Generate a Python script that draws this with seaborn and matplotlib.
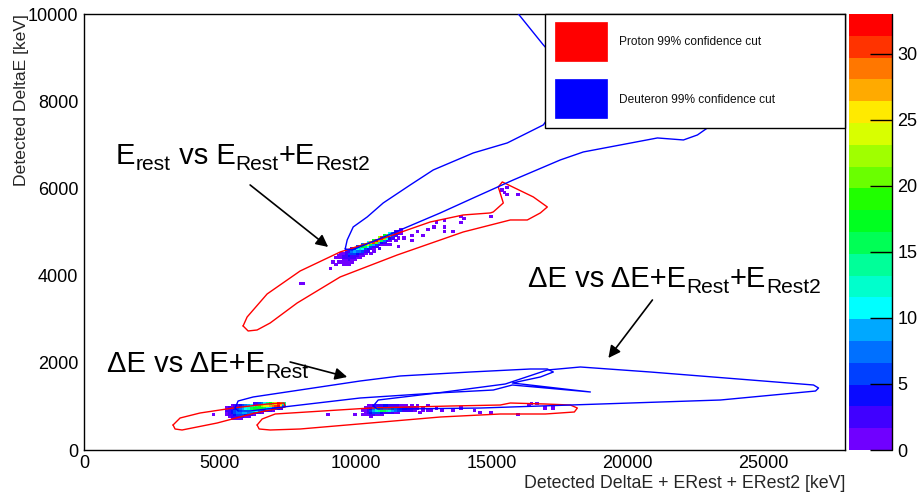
import numpy as np
import pandas as pd
import matplotlib
matplotlib.use("Agg")
import matplotlib.pyplot as plt
import seaborn as sns
from matplotlib.colors import ListedColormap
from matplotlib.patches import Rectangle
from matplotlib.ticker import MultipleLocator
from matplotlib.transforms import offset_copy

# ---------------------------------------------------------------------------
# 2D histogram contents, counts per (100 keV x 50 keV) bin.
# Each entry: (x bin start, top y bin start, counts going down in y)
# ---------------------------------------------------------------------------
erest_band_cols = [
    (9100, 4300, [1]),
    (9200, 4400, [1, 0, 0, 1]),
    (9300, 4450, [1, 1, 0, 1]),
    (9400, 4500, [1, 1, 1, 0, 1]),
    (9500, 4500, [1, 2, 2, 1, 1, 1]),
    (9600, 4550, [2, 3, 2, 2, 1, 1, 1]),
    (9700, 4550, [3, 5, 4, 2, 2, 1, 1]),
    (9800, 4600, [3, 7, 6, 3, 2, 1, 1]),
    (9900, 4600, [6, 9, 6, 3, 2, 1]),
    (10000, 4650, [5, 11, 8, 4, 2, 1]),
    (10100, 4650, [12, 14, 7, 3, 1, 1]),
    (10200, 4700, [7, 17, 11, 5, 2, 1]),
    (10300, 4700, [20, 15, 6, 3, 1]),
    (10400, 4750, [11, 24, 10, 4, 2]),
    (10500, 4750, [27, 16, 6, 2, 0, 1]),
    (10600, 4800, [18, 30, 9, 3, 1]),
    (10700, 4800, [32, 20, 5, 2]),
    (10800, 4850, [22, 28, 9, 3, 0, 1]),
    (10900, 4850, [30, 15, 4, 1]),
    (11000, 4900, [18, 22, 7, 2]),
    (11100, 4900, [20, 10, 3, 0, 1]),
    (11200, 4950, [10, 12, 4, 1]),
    (11300, 4950, [8, 5, 2]),
    (11400, 5000, [3, 4, 2, 0, 1]),
    (11500, 5000, [3, 2, 0, 1]),
    (11600, 5050, [1, 1, 1]),
]

de_rest_cols = [
    (5200, 950, [1, 2, 1, 1]),
    (5300, 950, [2, 2, 3, 2, 1]),
    (5400, 1000, [1, 3, 4, 4, 3, 2, 1]),
    (5500, 1000, [2, 4, 5, 6, 4, 3, 1]),
    (5600, 1000, [3, 5, 7, 7, 5, 3, 1]),
    (5700, 1000, [4, 7, 9, 8, 5, 2, 1]),
    (5800, 1000, [6, 9, 11, 9, 5, 2]),
    (5900, 1000, [7, 11, 12, 9, 4, 1]),
    (6000, 1000, [9, 13, 13, 8, 3, 1]),
    (6100, 1000, [11, 15, 13, 7, 2]),
    (6200, 1050, [2, 13, 17, 12, 5, 1]),
    (6300, 1050, [3, 16, 18, 10, 3]),
    (6400, 1050, [5, 19, 18, 8, 2]),
    (6500, 1050, [8, 22, 17, 6, 1]),
    (6600, 1050, [11, 24, 15, 4]),
    (6700, 1050, [14, 26, 13, 3]),
    (6800, 1050, [18, 27, 10, 2]),
    (6900, 1050, [22, 29, 8, 1]),
    (7000, 1050, [26, 31, 6]),
    (7100, 1050, [30, 32, 4]),
    (7200, 1050, [28, 25, 2]),
    (7300, 1050, [14, 8]),
]

de_total_cols = [
    (10200, 900, [1, 0, 1]),
    (10300, 950, [1, 1, 1, 1]),
    (10400, 1000, [1, 2, 3, 2, 1]),
    (10500, 1000, [1, 4, 6, 4, 2, 1]),
    (10600, 1000, [2, 8, 9, 5, 2]),
    (10700, 1000, [2, 13, 12, 5, 1]),
    (10800, 1000, [3, 17, 14, 5, 1]),
    (10900, 1000, [3, 21, 15, 4, 1]),
    (11000, 1000, [4, 24, 15, 3]),
    (11100, 1000, [4, 25, 14, 3]),
    (11200, 1000, [3, 22, 12, 2]),
    (11300, 1000, [3, 17, 9, 2]),
    (11400, 1000, [2, 12, 7, 1]),
    (11500, 1000, [2, 8, 5, 1]),
    (11600, 1000, [1, 6, 4]),
    (11700, 1000, [1, 4, 3]),
    (11800, 1000, [1, 3, 2]),
    (11900, 1000, [0, 2, 2]),
    (12000, 1000, [1, 2, 1]),
    (12100, 1000, [0, 1, 1]),
    (12200, 1000, [1, 1]),
    (12400, 1000, [0, 1, 1]),
    (12600, 1000, [1, 0, 1]),
    (12900, 1000, [0, 1]),
]

# isolated single-count entries
sparse_x = [9058, 7953, 8064, 11009, 11746, 12077, 12629, 12997, 13218, 13550,
            13844, 13955, 14949, 15317, 15575, 15980, 13844, 13218, 12482, 11525,
            12003, 12261, 12813, 13218, 15428, 15501, 11267, 10825, 10604,
            12003, 12372, 12740, 13108, 13587, 13844, 14323, 14581, 14949, 15943,
            16311, 16421, 16679, 16900, 17232, 8947, 9905, 4713, 11451, 11635, 11819]
sparse_y = [4198, 3831, 3831, 4703, 4886, 4932, 5093, 5207, 5276, 5047,
            5207, 5345, 5391, 5964, 5850, 5850, 5391, 5001, 4932, 4657,
            4817, 5001, 5116, 5116, 5918, 6033, 4749, 4611, 4588,
            918, 895, 918, 941, 918, 963, 918, 872, 872, 849,
            1032, 1078, 1055, 986, 963, 849, 849, 849, 963, 918, 986]

# ---------------------------------------------------------------------------
# Graphical cuts (99 % confidence contours)
# ---------------------------------------------------------------------------
proton_erest_x = [5854, 6002, 6738, 7953, 9426, 11156, 12740, 13955, 14949, 15059,
                  15427, 15243, 15391, 16532, 17047, 16790, 16311, 15685, 13955,
                  11525, 9426, 7843, 6849, 6370, 6039]
proton_erest_y = [2845, 3051, 3579, 4106, 4542, 4886, 5230, 5391, 5437, 5460,
                  5666, 6033, 6148, 5804, 5574, 5437, 5276, 5276, 5001,
                  4473, 3969, 3372, 2913, 2753, 2730]

deuteron_erest_x = [9610, 9684, 9905, 10420, 11009, 12003, 12850, 14323, 15575, 16900,
                    18079, 16900, 15980, 15133, 31886, 31886, 28020, 24890, 22939,
                    22571, 22055, 21098, 18373, 17526, 15796, 14323, 13108, 11635,
                    10420, 9868]
deuteron_erest_y = [4611, 4818, 5116, 5345, 5666, 6079, 6423, 6813, 7043, 7456,
                    8488, 9291, 10002, 10667, 10667, 9405, 8717, 7914, 7387,
                    7226, 7111, 7157, 6836, 6653, 6194, 5781, 5437, 5047,
                    4726, 4588]

proton_de_rest_x = [3277, 3535, 4271, 5486, 6738, 7364, 7401, 6296, 4897, 3608, 3351]
proton_de_rest_y = [574, 734, 849, 963, 1055, 1078, 986, 849, 619, 459, 482]

deuteron_de_rest_x = [5560, 5670, 6223, 7695, 10162, 11635, 14212, 16421, 17047, 17268,
                      16790, 15759, 18631, 15759, 15059, 12997, 10162, 7327, 6112, 5670]
deuteron_de_rest_y = [963, 1124, 1216, 1353, 1583, 1698, 1789, 1858, 1858, 1789,
                      1675, 1537, 1331, 1491, 1376, 1308, 1193, 986, 895, 895]

proton_de_total_x = [6370, 6554, 7033, 10531, 13476, 15317, 15685, 16974, 17895, 18152,
                     18042, 16974, 15317, 13108, 10531, 7953, 6849, 6444]
proton_de_total_y = [574, 711, 826, 963, 1009, 1032, 1078, 1055, 1032, 963,
                     872, 826, 826, 757, 619, 482, 459, 482]

deuteron_de_total_x = [10641, 10825, 12997, 15501, 17047, 18263, 20840, 26842, 27026,
                       26916, 23418, 18999, 14581, 11635, 10788]
deuteron_de_total_y = [1009, 1147, 1308, 1514, 1835, 1904, 1789, 1491, 1422,
                       1353, 1147, 1055, 963, 941, 941]

cut_labels = ["Proton 99% confidence cut", "Deuteron 99% confidence cut"]
cut_colors = ["#ff0000", "#0000ff"]

# colour palette, 20 contour levels, lowest to highest
palette_levels = ["#7000ff", "#4000ff", "#0a0aff", "#0040ff", "#0070ff", "#00a8ff",
                  "#00ffff", "#00ffcc", "#00ff99", "#00ff55", "#00ff20", "#20ff00",
                  "#6aff00", "#a0ff00", "#d8ff00", "#ffea00", "#ffaa00", "#ff7700",
                  "#ff3300", "#ff0000"]
z_max = 33
cbar_ticks = [0, 5, 10, 15, 20, 25, 30]

# annotation texts as (piece, is_subscript)
label_erest = [("E", 0), ("rest", 1), (" vs E", 0), ("Rest", 1), ("+E", 0), ("Rest2", 1)]
label_de_rest = [("\u0394E vs \u0394E+E", 0), ("Rest", 1)]
label_de_total = [("\u0394E vs \u0394E+E", 0), ("Rest", 1), ("+E", 0), ("Rest2", 1)]

# ---------------------------------------------------------------------------
sns.set_theme(style="white")
plt.rcParams["font.family"] = ["Liberation Sans", "DejaVu Sans"]
plt.rcParams["axes.edgecolor"] = "black"

fig = plt.figure(figsize=(9.17, 4.93), dpi=100)
ax = fig.add_axes([0.0916, 0.0872, 0.8299, 0.8844])
cax = fig.add_axes([0.9259, 0.0872, 0.0469, 0.8844])


def expand(cols):
    xs, ys, ws = [], [], []
    for x0, ytop, counts in cols:
        for k, c in enumerate(counts):
            if c:
                xs.append(x0 + 50)
                ys.append(ytop - 50 * k + 25)
                ws.append(c)
    return xs, ys, ws


hx, hy, hw = [], [], []
for cols in (erest_band_cols, de_rest_cols, de_total_cols):
    a, b, c = expand(cols)
    hx += a
    hy += b
    hw += c
hx += sparse_x
hy += sparse_y
hw += [1] * len(sparse_x)
hist_df = pd.DataFrame({"x": hx, "y": hy, "w": hw})

cmap = ListedColormap(palette_levels)
sns.histplot(data=hist_df, x="x", y="y", weights="w", binwidth=(100, 50),
             binrange=((0, 28000), (0, 10000)), cmap=cmap, vmin=0, vmax=z_max,
             cbar=True, cbar_ax=cax, cbar_kws={"ticks": cbar_ticks}, ax=ax,
             edgecolors="face", linewidth=0.4)
mesh = ax.collections[-1]
mesh.set_clim(0, z_max)

# cut contours
cuts = [
    (proton_erest_x, proton_erest_y, cut_colors[0]),
    (deuteron_erest_x, deuteron_erest_y, cut_colors[1]),
    (proton_de_rest_x, proton_de_rest_y, cut_colors[0]),
    (deuteron_de_rest_x, deuteron_de_rest_y, cut_colors[1]),
    (proton_de_total_x, proton_de_total_y, cut_colors[0]),
    (deuteron_de_total_x, deuteron_de_total_y, cut_colors[1]),
]
for xs, ys, col in cuts:
    sns.lineplot(x=list(xs) + [xs[0]], y=list(ys) + [ys[0]], sort=False,
                 estimator=None, color=col, lw=1.0, ax=ax, zorder=3)

ax.set_xlim(0, 28000)
ax.set_ylim(0, 10000)
ax.set_axisbelow(False)

# axes frame and ticks
for side in ["left", "bottom", "top", "right"]:
    ax.spines[side].set_visible(True)
    ax.spines[side].set_color("black")
    ax.spines[side].set_linewidth(1.0)
ax.xaxis.set_major_locator(MultipleLocator(5000))
ax.xaxis.set_minor_locator(MultipleLocator(1000))
ax.yaxis.set_major_locator(MultipleLocator(2000))
ax.yaxis.set_minor_locator(MultipleLocator(500))
ax.tick_params(axis="both", which="both", direction="in", colors="black",
               labelsize=13, top=False, right=False, width=0.9)
ax.tick_params(axis="y", which="major", length=16.5, pad=4)
ax.tick_params(axis="y", which="minor", length=8.5)
ax.tick_params(axis="x", which="major", length=8.5, pad=3.5)
ax.tick_params(axis="x", which="minor", length=4.5)

ax.set_xlabel("Detected DeltaE + ERest + ERest2 [keV]", fontsize=12.8, loc="right")
ax.set_ylabel("Detected DeltaE [keV]", fontsize=12.6, loc="top")
ax.xaxis.set_label_coords(1.0, -0.058)
ax.yaxis.set_label_coords(-0.072, 1.0)

# colour scale
cbar = mesh.colorbar
cbar.outline.set_visible(False)
cax.set_axisbelow(False)
cax.tick_params(axis="y", which="both", direction="in", length=16, width=1.0,
                labelsize=13, pad=4, colors="black", right=True, left=False)
cax.minorticks_off()
cax.plot([1, 1], [0, 1], transform=cax.transAxes, color="black", lw=1.0,
         clip_on=False, zorder=5)

# legend box
ax.add_patch(Rectangle((0.6058, 0.7385), 0.3942, 0.2615, transform=ax.transAxes,
                       facecolor="white", edgecolor="black", lw=1.0, zorder=10,
                       clip_on=False))
swatch_y = [0.8922, 0.7615]
text_y = [0.9358, 0.8028]
for lab, col, sy, ty in zip(cut_labels, cut_colors, swatch_y, text_y):
    ax.add_patch(Rectangle((0.6189, sy), 0.0684, 0.0895, transform=ax.transAxes,
                           facecolor=col, edgecolor=col, lw=0.5, zorder=11))
    ax.text(0.703, ty, lab, transform=ax.transAxes, fontsize=8.6, va="center",
            ha="left", zorder=12, color="#111111")


def draw_latex(ax, x, y, pieces, size, sub_scale=0.72, sub_drop=0.2):
    fig = ax.figure
    renderer = fig.canvas.get_renderer()
    dx = 0.0
    for txt, is_sub in pieces:
        fs = size * sub_scale if is_sub else size
        dy = -size * sub_drop if is_sub else 0.0
        tr = offset_copy(ax.transData, fig=fig, x=dx, y=dy, units="points")
        t = ax.text(x, y, txt, fontsize=fs, transform=tr, ha="left",
                    va="baseline", color="black", zorder=6)
        dx += t.get_window_extent(renderer).width * 72.0 / fig.dpi


draw_latex(ax, 1178, 6561, label_erest, 21)
draw_latex(ax, 847, 1789, label_de_rest, 21)
draw_latex(ax, 16348, 3739, label_de_total, 21)

arrow_kw = dict(arrowstyle="-|>", color="black", lw=1.2, mutation_scale=18,
                shrinkA=0, shrinkB=0)
ax.annotate("", xy=(8984, 4657), xytext=(6112, 6079), arrowprops=arrow_kw, zorder=6)
ax.annotate("", xy=(9684, 1675), xytext=(7585, 2019), arrowprops=arrow_kw, zorder=6)
ax.annotate("", xy=(19294, 2110), xytext=(20914, 3441), arrowprops=arrow_kw, zorder=6)

fig.savefig("out.png", dpi=100, facecolor="white")
